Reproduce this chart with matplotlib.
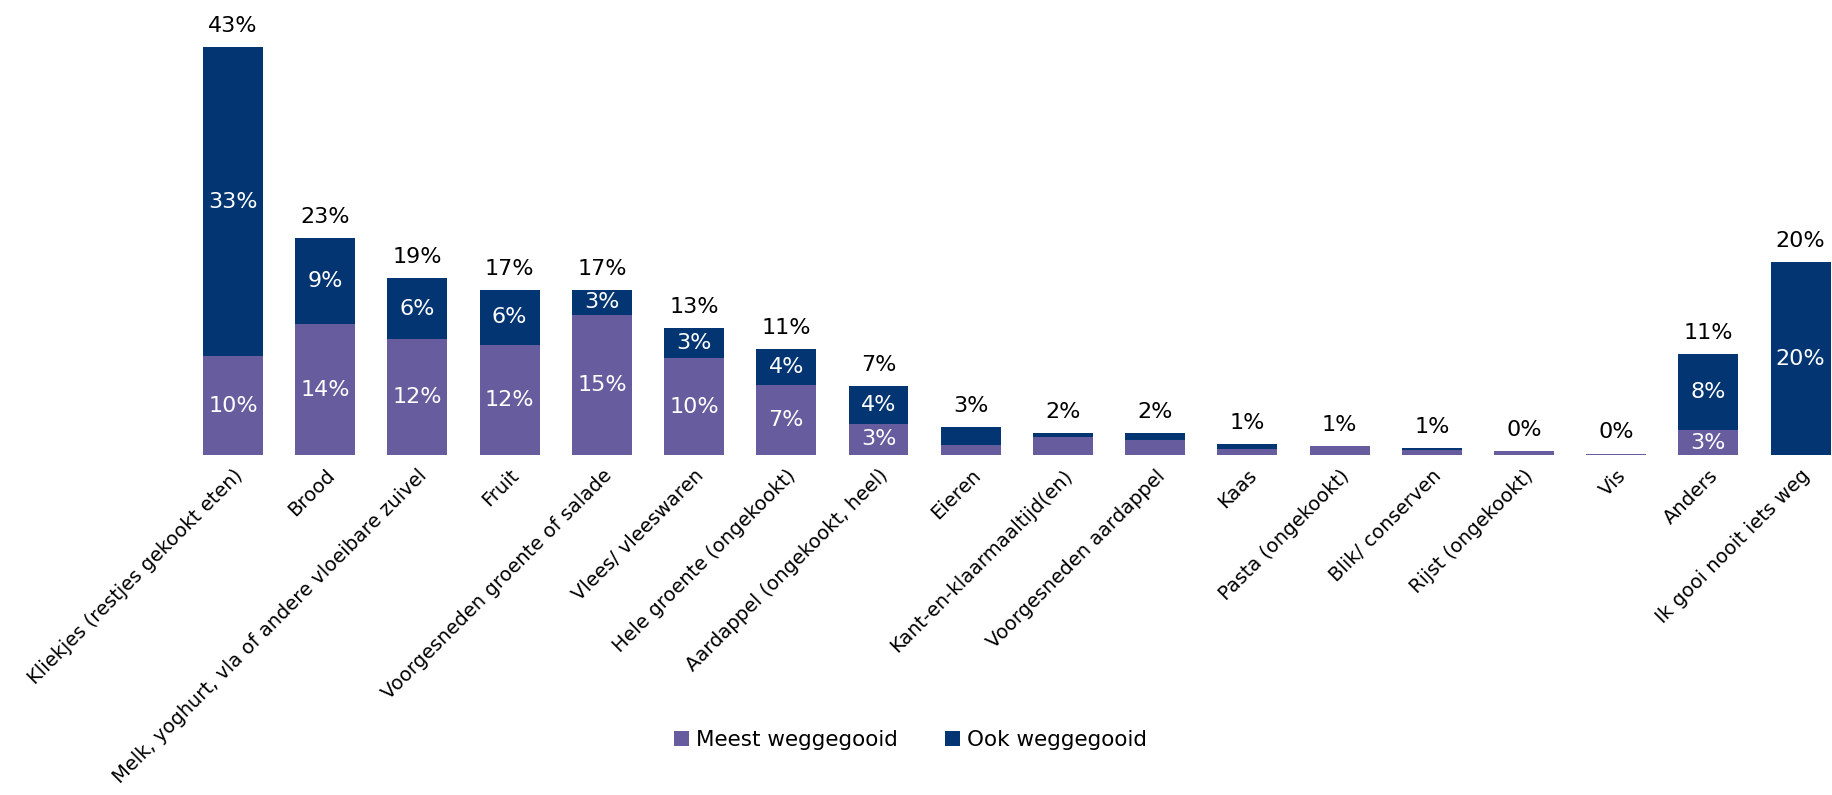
import numpy as np
import matplotlib
matplotlib.use("Agg")
import matplotlib.pyplot as plt

# Categorieën en waarden (in %)
categories = [
    "Kliekjes (restjes gekookt eten)", "Brood",
    "Melk, yoghurt, vla of andere vloeibare zuivel", "Fruit",
    "Voorgesneden groente of salade", "Vlees/ vleeswaren",
    "Hele groente (ongekookt)", "Aardappel (ongekookt, heel)", "Eieren",
    "Kant-en-klaarmaaltijd(en)", "Voorgesneden aardappel", "Kaas",
    "Pasta (ongekookt)", "Blik/ conserven", "Rijst (ongekookt)", "Vis",
    "Anders", "Ik gooi nooit iets weg",
]
meest = [10.4, 13.8, 12.2, 11.6, 14.8, 10.2, 7.4, 3.3, 1.0, 1.9, 1.6, 0.6,
         0.95, 0.55, 0.4, 0.15, 2.6, 0.0]
ook = [32.6, 9.1, 6.4, 5.8, 2.6, 3.2, 3.8, 4.0, 1.9, 0.45, 0.75, 0.55,
       0.0, 0.2, 0.0, 0.0, 8.0, 20.3]
series_names = ["Meest weggegooid", "Ook weggegooid"]

PURPLE = "#675c9e"
NAVY = "#033573"

plt.rcParams['font.family'] = ['DejaVu Sans']

fig = plt.figure(figsize=(18.32, 7.95), dpi=100)
# assen handmatig geplaatst zodat de balken op dezelfde plek vallen
ax = fig.add_axes([0, 0.4277, 1, 0.5371])

x = np.arange(len(categories))
meest = np.array(meest)
ook = np.array(ook)
totaal = meest + ook

b1 = ax.bar(x, meest, width=0.65, color=PURPLE, label=series_names[0])
b2 = ax.bar(x, ook, width=0.65, bottom=meest, color=NAVY, label=series_names[1])

# labels in de segmenten
for i in range(len(x)):
    if meest[i] >= 2.5:
        ax.text(x[i], meest[i] / 2, f"{round(meest[i]):.0f}%", ha="center",
                va="center", color="white", fontsize=16)
    if ook[i] >= 2.5:
        ax.text(x[i], meest[i] + ook[i] / 2, f"{round(ook[i]):.0f}%",
                ha="center", va="center", color="white", fontsize=16)
    # totaal boven de balk
    ax.annotate(f"{round(totaal[i]):.0f}%", (x[i], totaal[i]),
                xytext=(0, 8), textcoords="offset points", ha="center",
                va="bottom", fontsize=16, color="black")

ax.set_xlim(-2.527, 17.34)
ax.set_ylim(0, 45)
ax.set_xticks(x)
ax.set_xticklabels(categories, rotation=45, ha="right",
                   rotation_mode="anchor", fontsize=14)
ax.tick_params(axis="x", length=0, pad=8)
ax.set_yticks([])
for s in ax.spines.values():
    s.set_visible(False)

fig.legend(handles=[b1, b2], labels=series_names, loc="center",
           bbox_to_anchor=(0.497, 0.069), ncol=2, frameon=False,
           fontsize=15.5, handlelength=0.7, handleheight=0.7,
           handletextpad=0.3, columnspacing=2.2)

fig.savefig("out.png", dpi=100)
